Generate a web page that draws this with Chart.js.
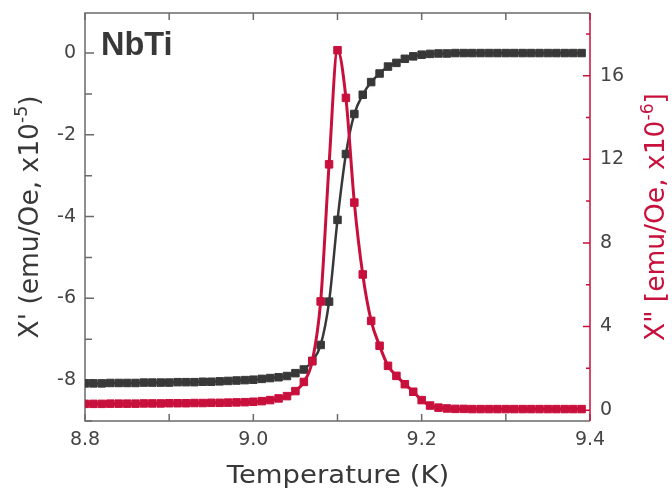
<!DOCTYPE html>
<html>
<head>
<meta charset="utf-8">
<script src="https://cdn.jsdelivr.net/npm/chart.js@4.4.0/dist/chart.umd.min.js"></script>
<style>
  html, body { margin: 0; padding: 0; background: #fff; }
  #wrap { width: 672px; height: 491px; }
</style>
</head>
<body>
<div id="wrap"><canvas id="chart" width="672" height="491"></canvas></div>
<script>
// Temperature (K)
const temps = [
    8.80, 8.81, 8.82, 8.83, 8.84, 8.85, 8.86, 8.87, 8.88, 8.89,
    8.90, 8.91, 8.92, 8.93, 8.94, 8.95, 8.96, 8.97, 8.98, 8.99,
    9.00, 9.01, 9.02, 9.03, 9.04, 9.05, 9.06, 9.07, 9.08, 9.09,
    9.10, 9.11, 9.12, 9.13, 9.14, 9.15, 9.16, 9.17, 9.18, 9.19,
    9.20, 9.21, 9.22, 9.23, 9.24, 9.25, 9.26, 9.27, 9.28, 9.29,
    9.30, 9.31, 9.32, 9.33, 9.34, 9.35, 9.36, 9.37, 9.38, 9.39
];
// X' (emu/Oe, x10^-5) - left axis
const chiReal = [
    -8.08, -8.08, -8.08, -8.07, -8.07, -8.07, -8.07, -8.06, -8.06, -8.06,
    -8.06, -8.05, -8.05, -8.05, -8.04, -8.04, -8.03, -8.02, -8.01, -8.00,
    -7.99, -7.97, -7.95, -7.93, -7.90, -7.83, -7.74, -7.53, -7.14, -6.08,
    -4.08, -2.47, -1.49, -1.02, -0.71, -0.50, -0.33, -0.24, -0.14, -0.08,
    -0.04, -0.02, -0.01, -0.01, 0, 0, 0, 0, 0, 0,
    0, 0, 0, 0, 0, 0, 0, 0, 0, 0
];
// X" (emu/Oe, x10^-6) - right axis
const chiImag = [
    0.30, 0.30, 0.30, 0.31, 0.31, 0.31, 0.31, 0.32, 0.32, 0.32,
    0.33, 0.33, 0.33, 0.34, 0.34, 0.35, 0.35, 0.36, 0.37, 0.38,
    0.40, 0.43, 0.48, 0.56, 0.67, 0.91, 1.35, 2.34, 5.20, 11.76,
    17.22, 14.94, 9.93, 6.49, 4.27, 3.08, 2.12, 1.64, 1.24, 0.88,
    0.48, 0.22, 0.12, 0.08, 0.06, 0.06, 0.05, 0.05, 0.05, 0.05,
    0.05, 0.05, 0.05, 0.05, 0.05, 0.05, 0.05, 0.05, 0.05, 0.05
];
const xTicks = [8.8, 9.0, 9.2, 9.4];
const leftTicks = [0, -2, -4, -6, -8];
const rightTicks = [0, 4, 8, 12, 16];

const BLACK = '#383838';
const RED = '#c8103c';
const FRAME = '#6b6b6b';
const TEXT = '#444444';
const FONT = "'DejaVu Sans', sans-serif";

function hasTick(list, v) {
    return list.some(t => Math.abs(t - v) < 1e-6);
}

// draw a line of text with a superscript part, centred on (0,0)
function drawParts(ctx, parts, size) {
    const supSize = size * 0.65;
    let total = 0;
    parts.forEach(p => {
        ctx.font = `${p.sup ? supSize : size}px ${FONT}`;
        p.w = ctx.measureText(p.t).width;
        total += p.w;
    });
    let x = -total / 2;
    ctx.textAlign = 'left';
    ctx.textBaseline = 'alphabetic';
    parts.forEach(p => {
        ctx.font = `${p.sup ? supSize : size}px ${FONT}`;
        ctx.fillText(p.t, x, p.sup ? -size * 0.42 : 0);
        x += p.w;
    });
}

const framePlugin = {
    id: 'frame',
    beforeDatasetsDraw(chart) {
        const { ctx, chartArea: a, scales } = chart;
        ctx.save();
        ctx.lineWidth = 1.5;
        ctx.strokeStyle = FRAME;
        ctx.beginPath();
        // x ticks, bottom and top, pointing inward
        scales.x.ticks.forEach(t => {
            const px = scales.x.getPixelForValue(t.value);
            ctx.moveTo(px, a.bottom);
            ctx.lineTo(px, a.bottom - 7);
            ctx.moveTo(px, a.top);
            ctx.lineTo(px, a.top + 7);
        });
        // left y ticks
        scales.y.ticks.forEach(t => {
            const py = scales.y.getPixelForValue(t.value);
            const len = hasTick(leftTicks, t.value) ? 9 : 7;
            ctx.moveTo(a.left, py);
            ctx.lineTo(a.left + len, py);
        });
        ctx.stroke();
        // frame: left, top, bottom
        ctx.beginPath();
        ctx.moveTo(a.right, a.top);
        ctx.lineTo(a.left, a.top);
        ctx.lineTo(a.left, a.bottom);
        ctx.lineTo(a.right, a.bottom);
        ctx.stroke();
        // right axis in red
        ctx.strokeStyle = RED;
        ctx.beginPath();
        ctx.moveTo(a.right, a.top);
        ctx.lineTo(a.right, a.bottom);
        scales.y2.ticks.forEach(t => {
            const py = scales.y2.getPixelForValue(t.value);
            const len = hasTick(rightTicks, t.value) ? 7 : 4;
            ctx.moveTo(a.right, py);
            ctx.lineTo(a.right - len, py);
        });
        ctx.stroke();
        ctx.restore();
    },
    afterDraw(chart) {
        const { ctx } = chart;
        ctx.save();
        // sample label
        ctx.fillStyle = BLACK;
        ctx.font = "bold 32.5px 'Liberation Sans', Arial, sans-serif";
        ctx.textAlign = 'left';
        ctx.textBaseline = 'alphabetic';
        ctx.fillText('NbTi', 101, 55);

        // x title, slightly wide like the original
        ctx.save();
        ctx.translate(338, 483);
        ctx.scale(1.1, 1);
        ctx.fillStyle = BLACK;
        ctx.font = `25px ${FONT}`;
        ctx.textAlign = 'center';
        ctx.fillText('Temperature (K)', 0, 0);
        ctx.restore();

        // left title
        ctx.save();
        ctx.translate(38, 217);
        ctx.rotate(-Math.PI / 2);
        ctx.fillStyle = BLACK;
        drawParts(ctx, [{ t: "X' (emu/Oe, x10" }, { t: '-5', sup: true }, { t: ')' }], 26.5);
        ctx.restore();

        // right title
        ctx.save();
        ctx.translate(664, 217);
        ctx.rotate(-Math.PI / 2);
        ctx.fillStyle = RED;
        drawParts(ctx, [{ t: 'X" [emu/Oe, x10' }, { t: '-6', sup: true }, { t: ']' }], 26.5);
        ctx.restore();
        ctx.restore();
    }
};

const tickFont = { family: FONT, size: 19 };

function fixV(width) {
    return s => { s.width = width; s.paddingTop = 0; s.paddingBottom = 0; };
}

new Chart(document.getElementById('chart'), {
    type: 'line',
    data: {
        datasets: [
            {
                label: "X'",
                data: temps.map((t, i) => ({ x: t, y: chiReal[i] })),
                yAxisID: 'y',
                borderColor: BLACK,
                backgroundColor: BLACK,
                borderWidth: 2.5,
                pointStyle: 'rect',
                pointRadius: 5.3,
                pointBorderWidth: 1,
                cubicInterpolationMode: 'monotone',
                order: 2
            },
            {
                label: 'X"',
                data: temps.map((t, i) => ({ x: t, y: chiImag[i] })),
                yAxisID: 'y2',
                borderColor: RED,
                backgroundColor: RED,
                borderWidth: 3,
                pointStyle: 'rect',
                pointRadius: 5.3,
                pointBorderWidth: 1,
                cubicInterpolationMode: 'monotone',
                order: 1
            }
        ]
    },
    options: {
        responsive: false,
        animation: false,
        layout: { padding: { top: 13, left: 0, right: 0, bottom: 0 } },
        plugins: {
            legend: { display: false },
            tooltip: { enabled: false }
        },
        scales: {
            x: {
                type: 'linear',
                min: 8.8,
                max: 9.4,
                grid: { display: false, drawTicks: false },
                border: { display: false },
                ticks: {
                    stepSize: 0.1,
                    autoSkip: false,
                    maxRotation: 0,
                    padding: 8,
                    color: TEXT,
                    font: tickFont,
                    callback: v => hasTick(xTicks, v) ? v.toFixed(1) : ''
                },
                afterFit(s) { s.height = 70; s.paddingLeft = 0; s.paddingRight = 0; }
            },
            y: {
                position: 'left',
                min: -9,
                max: 0.98,
                grid: { display: false, drawTicks: false },
                border: { display: false },
                ticks: {
                    stepSize: 1,
                    includeBounds: false,
                    autoSkip: false,
                    padding: 9,
                    color: TEXT,
                    font: tickFont,
                    callback: v => hasTick(leftTicks, v) ? String(Math.round(v)) : ''
                },
                afterFit: fixV(85)
            },
            y2: {
                position: 'right',
                min: -0.52,
                max: 19,
                grid: { display: false, drawTicks: false },
                border: { display: false },
                ticks: {
                    stepSize: 2,
                    includeBounds: false,
                    autoSkip: false,
                    padding: 10,
                    color: TEXT,
                    font: tickFont,
                    callback: v => hasTick(rightTicks, v) ? String(Math.round(v)) : ''
                },
                afterFit: fixV(82)
            }
        }
    },
    plugins: [framePlugin]
});
</script>
</body>
</html>
